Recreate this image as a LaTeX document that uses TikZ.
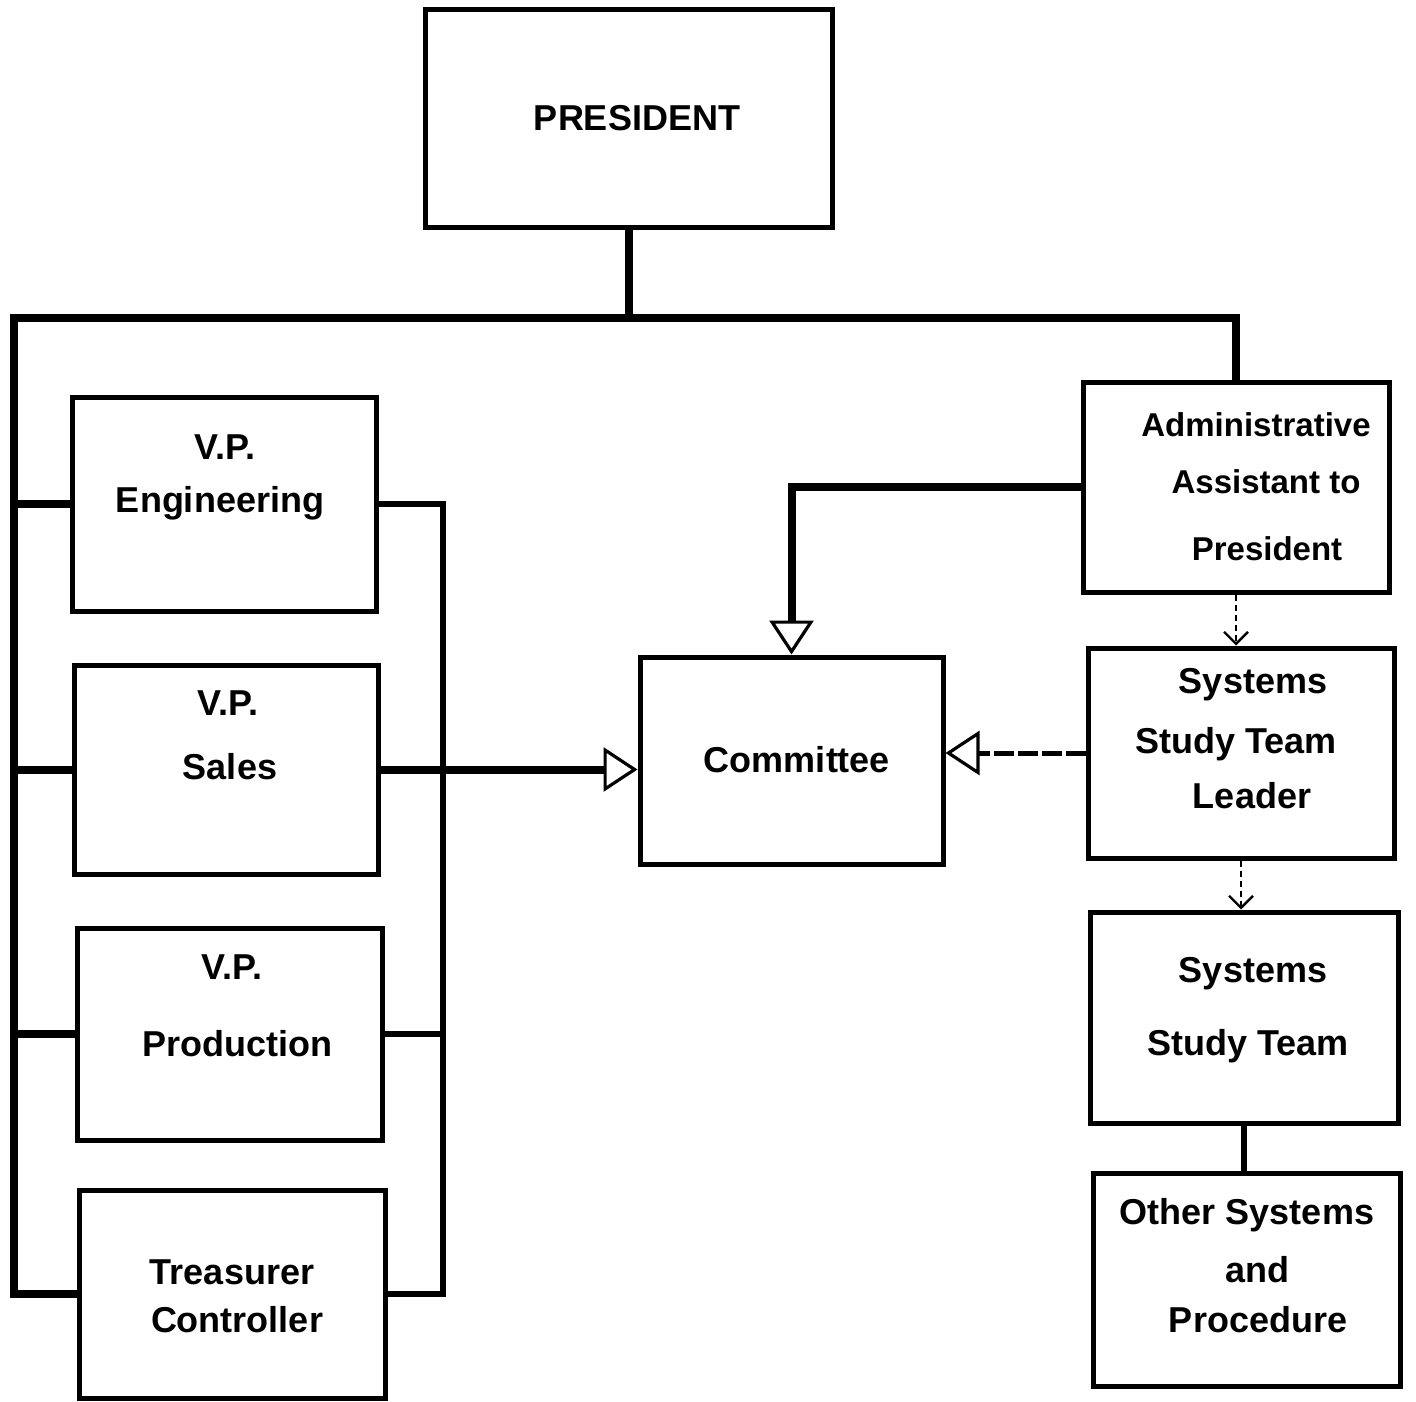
\documentclass[tikz,border=0pt]{standalone}
\usepackage{fontspec}
\setmainfont{Liberation Sans}
\usetikzlibrary{arrows.meta,fit}
\begin{document}
\begin{tikzpicture}[x=0.5pt,y=-0.5pt,
  box/.style={draw, line width=2.5pt, inner sep=0pt, rectangle},
  lbl/.style={font=\fontsize{18}{20}\selectfont\bfseries, inner sep=0pt},
  lbls/.style={font=\fontsize{16.5}{19}\selectfont\bfseries, inner sep=0pt},
  bus/.style={line width=4pt, line join=miter},
  rbus/.style={line width=3pt},
  openarrow/.style={-{Triangle[open, length=17pt, width=22pt, line width=1.6pt]}},
  smallarrow/.style={-{Straight Barb[length=6pt, width=12pt, line width=1.2pt]}}
]
\useasboundingbox (0,0) rectangle (1416,1401);

% boxes
\node[box, fit={(425,10) (832,228)}] (pres) {};
\node[box, fit={(72,397) (376,611)}] (vpe) {};
\node[box, fit={(74,665) (378,874)}] (sal) {};
\node[box, fit={(77,928) (382,1140)}] (prd) {};
\node[box, fit={(79,1190) (385,1398)}] (tc) {};
\node[box, fit={(640,657) (943,864)}] (com) {};
\node[box, fit={(1083,382) (1389,592)}] (adm) {};
\node[box, fit={(1088,648) (1394,858)}] (ldr) {};
\node[box, fit={(1090,912) (1398,1123)}] (tm) {};
\node[box, fit={(1093,1173) (1400,1386)}] (oth) {};

% labels
\node[lbl] (pres-t) at (637,118) {PRESIDENT};
\node[lbl] (vpe-t1) at (225,447) {V.P.};
\node[lbl] (vpe-t2) at (220,503) {Engineering};
\node[lbl] (sal-t1) at (228,703) {V.P.};
\node[lbl] (sal-t2) at (230,767) {Sales};
\node[lbl] (prd-t1) at (232,967) {V.P.};
\node[lbl] (prd-t2) at (237,1044) {Production};
\node[lbl] (tc-t1) at (232,1272) {Treasurer};
\node[lbl] (tc-t2) at (237,1320) {Controller};
\node[lbl] (com-t) at (797,760) {Committee};
\node[lbls] (adm-t1) at (1256,425) {Administrative};
\node[lbls] (adm-t2) at (1266,482) {Assistant to};
\node[lbls] (adm-t3) at (1267,549) {President};
\node[lbl] (ldr-t1) at (1253,685) {Systems};
\node[lbl] (ldr-t2) at (1236,744) {Study Team};
\node[lbl] (ldr-t3) at (1252,796) {Leader};
\node[lbl] (tm-t1) at (1253,974) {Systems};
\node[lbl] (tm-t2) at (1248,1046) {Study Team};
\node[lbl] (oth-t1) at (1247,1215) {Other Systems};
\node[lbl] (oth-t2) at (1257,1270) {and};
\node[lbl] (oth-t3) at (1258,1320) {Procedure};

% main distribution lines from the president
\coordinate (lbus) at (14,318);
\draw[bus] (pres.south) -- (pres.south |- lbus) coordinate (hub);
\draw[bus] (hub) -| (adm.north);
\draw[bus] (hub) -- (lbus) |- (tc.west);
\draw[bus] (vpe.west) -- (vpe.west -| lbus);
\draw[bus] (sal.west) -- (sal.west -| lbus);
\draw[bus] (prd.west) -- (prd.west -| lbus);

% right-hand collector of the vice presidents
\draw[rbus] (vpe.east) -- ++(64,0) coordinate (rtop) |- (tc.east);
\draw[rbus] (prd.east) -- (prd.east -| rtop);

% arrows into the committee
\draw[bus, openarrow] (sal.east) -- (sal.east -| com.west);
\draw[bus, openarrow] (adm.west) -| (com.north);
\draw[line width=2.5pt, dash pattern=on 10pt off 2pt, openarrow] (ldr.west) -- (ldr.west -| com.east);

% systems study chain
\draw[line width=1.2pt, densely dashed, smallarrow] (adm.south) -- (adm.south |- ldr.north);
\draw[line width=1.2pt, densely dashed, smallarrow] (ldr.south) -- (ldr.south |- tm.north);
\draw[line width=3pt] (tm.south) -- (tm.south |- oth.north);
\end{tikzpicture}
\end{document}
